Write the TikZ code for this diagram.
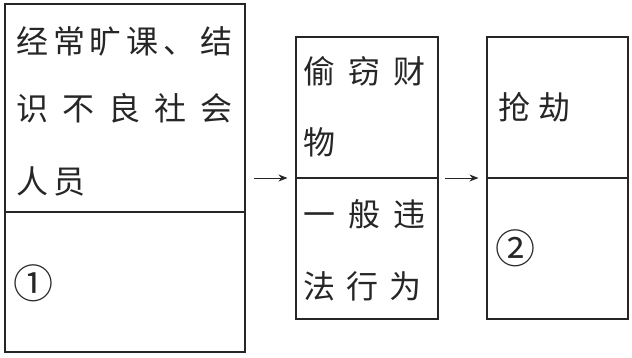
\documentclass[tikz,border=0pt]{standalone}
\usepackage{fontspec}
\newfontfamily\cjk{Noto Sans CJK SC}
\usetikzlibrary{arrows.meta}
\begin{document}
\begin{tikzpicture}[x=1pt,y=-1pt]
  \tikzstyle{boxStyle}=[draw=black!85,line width=1.1pt,inner sep=0pt]
  \tikzstyle{textStyle}=[anchor=west,inner sep=0pt,text=black!85,font=\cjk\fontsize{32}{32}\selectfont]
  \tikzstyle{numStyle}=[textStyle,font=\cjk\fontsize{40}{40}\selectfont]
  \tikzstyle{arrowStyle}=[line width=0.8pt,draw=black!85,-{Stealth[length=9pt,width=7pt]}]
  \useasboundingbox (0,0) rectangle (632,357);

  \begin{scope}
   % the three boxes
   \node[boxStyle,minimum width=240pt,minimum height=348pt](causes) at (125,178) {};
   \draw[boxStyle] ([yshift=-34pt]causes.west) -- ([yshift=-34pt]causes.east);
   \node[boxStyle,minimum width=142pt,minimum height=282pt](theft) at (367,178) {};
   \draw[boxStyle] (theft.west) -- (theft.east);
   \node[boxStyle,minimum width=141pt,minimum height=282pt](robbery) at (557.5,178) {};
   \draw[boxStyle] (robbery.west) -- (robbery.east);

   \draw[arrowStyle,shorten <=8pt,shorten >=8pt] (causes) -- (theft);
   \draw[arrowStyle,shorten <=6pt,shorten >=8pt] (theft) -- (robbery);

   % texts of the first box
   \node[textStyle](cause1) at (16,41) {\makebox[216pt][s]{经\hfill 常\hfill 旷\hfill 课\hfill 、\hfill 结}};
   \node[textStyle](cause2) at (16,108) {\makebox[216pt][s]{识\hfill 不\hfill 良\hfill 社\hfill 会}};
   \node[textStyle](cause3) at (16,181) {\makebox[69pt][s]{人\hfill 员}};
   \node[numStyle](blank1) at (13,283) {①};

   % texts of the second box
   \node[textStyle](theft1) at (303,71) {\makebox[122pt][s]{偷\hfill 窃\hfill 财}};
   \node[textStyle](theft2) at (303,142) {物};
   \node[textStyle](illegal1) at (303,214) {\makebox[122pt][s]{一\hfill 般\hfill 违}};
   \node[textStyle](illegal2) at (303,286) {\makebox[118pt][s]{法\hfill 行\hfill 为}};

   % texts of the third box
   \node[textStyle](robbery1) at (498,107) {\makebox[72pt][s]{抢\hfill 劫}};
   \node[numStyle](blank2) at (495,248) {②};
  \end{scope}

\end{tikzpicture}
\end{document}
